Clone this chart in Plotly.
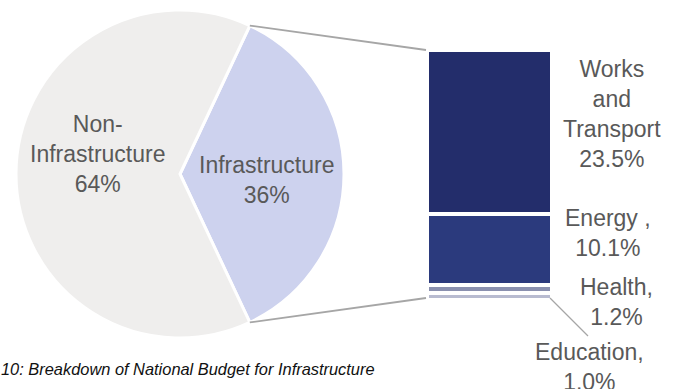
import math
import plotly.graph_objects as go

# ---- data ----
pie_labels = ["Infrastructure", "Non-Infrastructure"]
pie_values = [36, 64]
pie_colors = ["#CDD2EE", "#EFEEED"]

bar_labels = ["Education", "Health", "Energy ", "Works and Transport"]
bar_values = [1.0, 1.2, 10.1, 23.5]
bar_colors = ["#B8BBD0", "#8A90AF", "#2B3A7D", "#232D6B"]

caption = "10: Breakdown of National Budget for Infrastructure"

W, H = 678, 389
# geometry (pixels)
cx, cy, R = 180, 174, 164
bx0, bx1, by0, by1 = 427, 552, 50, 300

def px(x):
    return x / W

def py(y):
    return 1 - y / H

fig = go.Figure()

infra_share = pie_values[0] / sum(pie_values)
half = infra_share * 360 / 2
rotation = 90 - half

fig.add_trace(go.Pie(
    labels=pie_labels, values=pie_values, sort=False, direction="clockwise",
    rotation=rotation, marker=dict(colors=pie_colors, line=dict(color="white", width=3)),
    textinfo="none", hoverinfo="label+percent", showlegend=False,
    domain=dict(x=[px(cx - R), px(cx + R)], y=[py(cy + R), py(cy - R)]),
))

for lab, val, col in zip(bar_labels, bar_values, bar_colors):
    fig.add_trace(go.Bar(
        x=["Infra"], y=[val], name=lab, marker=dict(color=col, line=dict(color="white", width=4)),
        width=1, showlegend=False,
    ))

total = sum(bar_values)

fig.update_layout(
    width=W, height=H, margin=dict(l=0, r=0, t=0, b=0),
    paper_bgcolor="white", plot_bgcolor="white", barmode="stack", bargap=0,
    xaxis=dict(domain=[px(bx0), px(bx1)], range=[-0.5, 0.5], visible=False, fixedrange=True),
    yaxis=dict(domain=[py(by1), py(by0)], range=[0, total], visible=False, fixedrange=True),
    font=dict(family="Liberation Sans, Arial, sans-serif", color="#595959"),
)

# connector lines from pie slice edges to bar corners
a = math.radians(rotation)
top_pt = (cx + R * math.sin(a), cy - R * math.cos(a))
b = math.radians(rotation + 2 * half)
bot_pt = (cx + R * math.sin(b), cy - R * math.cos(b))
line_style = dict(color="#A6A6A6", width=1.8)
fig.add_shape(type="line", xref="paper", yref="paper",
              x0=px(top_pt[0]), y0=py(top_pt[1]), x1=px(bx0 - 1), y1=py(by0), line=line_style)
fig.add_shape(type="line", xref="paper", yref="paper",
              x0=px(bot_pt[0]), y0=py(bot_pt[1]), x1=px(bx0 - 1), y1=py(by1 - 2), line=line_style)
# education leader line
fig.add_shape(type="line", xref="paper", yref="paper",
              x0=px(bx1 - 2), y0=py(by1 - 2), x1=px(588), y1=py(336), line=dict(color="#A6A6A6", width=1.2))

fs = 23
def ann(text, x, y, size=fs, color="#595959", xanchor="center"):
    fig.add_annotation(text=text, x=px(x), y=py(y), xref="paper", yref="paper",
                       xanchor=xanchor, yanchor="middle",
                       showarrow=False, font=dict(size=size, color=color))

ann("Non-<br>Infrastructure<br>64%", 98, 154)
ann("Infrastructure<br>36%", 267, 180)
ann("Works<br>and<br>Transport<br>23.5%", 612, 114)
ann("Energy ,<br>10.1%", 608, 233)
ann("Health,<br>1.2%", 616, 302)
ann("Education,<br>1.0%", 589, 367)
ann("<i>" + caption + "</i>", -1, 369, size=16.4, color="#111111", xanchor="left")

fig.write_html("out.html")
